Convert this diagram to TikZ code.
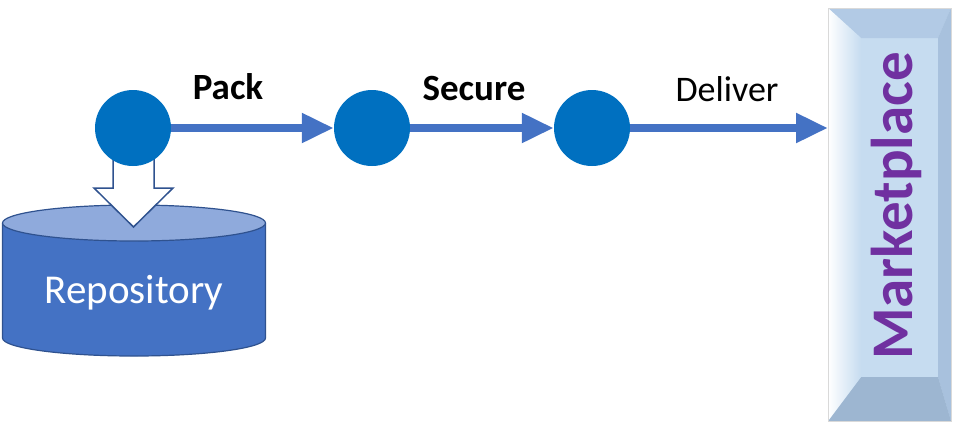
\documentclass[tikz,border=0pt]{standalone}
\usepackage{fontspec}
\setmainfont{Carlito}
\usetikzlibrary{arrows.meta,calc}
\definecolor{dotblue}{HTML}{0070C0}
\definecolor{flowblue}{HTML}{4472C4}
\definecolor{cylblue}{HTML}{4472C4}
\definecolor{cyltop}{HTML}{8FAADC}
\definecolor{cylline}{HTML}{2F528F}
\definecolor{mkface}{HTML}{C6DCF0}
\definecolor{mktop}{HTML}{B2CAE5}
\definecolor{mkright}{HTML}{A8C1DD}
\definecolor{mkbottom}{HTML}{9DB6D1}
\definecolor{mkpurple}{HTML}{7030A0}
\tikzset{
  dot/.style={circle,fill=dotblue,draw=none,minimum size=76pt,inner sep=0pt},
  flow/.style={draw=flowblue,line width=8pt,-{Triangle[length=32pt,width=28pt]}},
  steplabel/.style={font=\bfseries\fontsize{37}{40}\selectfont,text=black},
  plainlabel/.style={font=\fontsize{36}{40}\selectfont,text=black},
  repotext/.style={font=\fontsize{41}{44}\selectfont,text=white},
  mktext/.style={font=\bfseries\fontsize{59}{62}\selectfont,text=mkpurple,rotate=90},
  hollow/.style={fill=white,draw=cylline,line width=1.5pt,line join=miter},
}
\begin{document}
\begin{tikzpicture}[x=1pt,y=-1pt]
\useasboundingbox (0,0) rectangle (968,432);
% repository cylinder
\fill[cylblue] (2.5,223) -- (2.5,338) arc[start angle=180,end angle=0,x radius=131.5,y radius=18] -- (265.5,223) -- cycle;
\draw[cylline,line width=1.2pt] (2.5,223) -- (2.5,338) arc[start angle=180,end angle=0,x radius=131.5,y radius=18] -- (265.5,223);
\draw[cylline,line width=1.2pt,fill=cyltop] (134,223) ellipse[x radius=131.5,y radius=18];
\node[repotext] (repo) at (134,293) {Repository};
% hollow down arrow from first node into repository
\draw[hollow] (113,150) -- (113,188) -- (94,188) -- (133.5,227) -- (173,188) -- (154,188) -- (154,150);
% marketplace box
\fill[mkface] (828,8) rectangle (951,421);
\fill[mktop] (828,8) -- (951,8) -- (938,38) -- (861,38) -- cycle;
\fill[mkright] (951,8) -- (951,421) -- (938,377) -- (938,38) -- cycle;
\fill[mkbottom] (828,421) -- (951,421) -- (938,377) -- (861,377) -- cycle;
\shade[left color=white,right color=mkface] (828,8) -- (861,38) -- (861,377) -- (828,421) -- cycle;
\draw[black!15,line width=0.8pt] (828,8) rectangle (951,421);
\node[mktext] (market) at (896,206) {Marketplace};
\coordinate (mkwest) at (828,206);
% nodes
\node[dot] (n1) at (133,128) {};
\node[dot] (n2) at (372,128) {};
\node[dot] (n3) at (592,128) {};
% connectors
\draw[flow] (n1) -- (n2);
\draw[flow] (n2) -- (n3);
\draw[flow] (n3) -- (n3 -| mkwest);
% labels
\node[steplabel] (lpack) at (228,87) {Pack};
\node[steplabel] (lsecure) at (474,88) {Secure};
\node[plainlabel] (ldeliver) at (727,89) {Deliver};
\end{tikzpicture}
\end{document}
